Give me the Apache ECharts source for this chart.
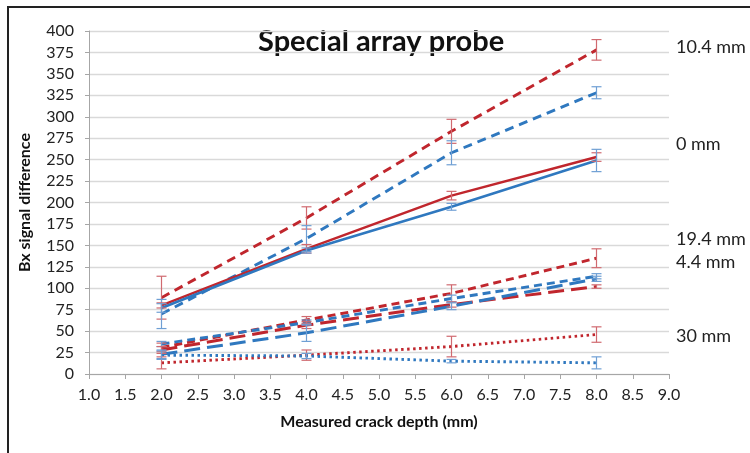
<!DOCTYPE html>
<html>
<head>
<meta charset="utf-8">
<script src="https://cdn.jsdelivr.net/npm/echarts@6/dist/echarts.min.js"></script>
<style>
  html, body { margin: 0; padding: 0; background: #fff; }
  #chart { width: 750px; height: 453px; }
</style>
</head>
<body>
<div id="chart"></div>
<script>
// crack depths (mm)
const depths = [2, 4, 6, 8];

// Bx signal difference, red = one probe row, blue = other
const red104 = [89, 182, 283, 378];
const blue104 = [70, 158, 258, 328];
const red0 = [80, 146, 208, 253];
const blue0 = [77, 144, 195, 249];
const red194 = [31, 63, 94, 135];
const blue194 = [35, 60, 88, 114];
const red44 = [28, 57, 81, 102];
const blue44 = [23, 48, 79, 111];
const red30 = [13, 22, 32, 46];
const blue30 = [22, 21, 15, 13];

// error bar half-widths
const red104Err = [25, 13, 14, 12];
const blue104Err = [17, 15, 14, 7];
const red0Err = [3, 5, 5, 5];
const blue0Err = [5, 3, 4, 13];
const red194Err = [5, 4, 10, 11];
const blue194Err = [3, 3, 4, 3];
const red44Err = [4, 4, 3, 2];
const blue44Err = [5, 10, 4, 3];
const red30Err = [7, 6, 12, 9];
const blue30Err = [5, 3, 2, 7];

// labels at the right edge naming each offset
const sideLabels = ['10.4 mm', '0 mm', '19.4 mm', '4.4 mm', '30 mm'];
const sideLabelY = [49, 146, 241, 264, 338];

const RED = '#c0262d';
const BLUE = '#2f78bf';
const RED_ERR = '#d06a70';
const BLUE_ERR = '#6f9fd4';

function pairs(vals) {
  return depths.map((d, i) => [d, vals[i]]);
}

function lineSeries(name, vals, color, dash, width) {
  return {
    name: name,
    type: 'line',
    data: pairs(vals),
    symbol: 'none',
    lineStyle: { color: color, width: width || 2.6, type: dash, cap: 'butt' },
    z: 3
  };
}

function errSeries(vals, errs, color) {
  return {
    type: 'custom',
    data: depths.map((d, i) => [d, vals[i], errs[i]]),
    z: 4,
    renderItem: function (params, api) {
      const x = api.value(0), y = api.value(1), e = api.value(2);
      const top = api.coord([x, y + e]);
      const bot = api.coord([x, y - e]);
      const hw = 5;
      const st = { stroke: color, lineWidth: 1.2 };
      return {
        type: 'group',
        children: [
          { type: 'line', shape: { x1: top[0], y1: top[1], x2: bot[0], y2: bot[1] }, style: st },
          { type: 'line', shape: { x1: top[0] - hw, y1: top[1], x2: top[0] + hw, y2: top[1] }, style: st },
          { type: 'line', shape: { x1: bot[0] - hw, y1: bot[1], x2: bot[0] + hw, y2: bot[1] }, style: st }
        ]
      };
    }
  };
}

const chart = echarts.init(document.getElementById('chart'));
chart.setOption({
  animation: false,
  textStyle: { fontFamily: 'Lato' },
  grid: { left: 89, right: 81, top: 31, bottom: 79 },
  xAxis: {
    type: 'value',
    min: 1,
    max: 9,
    interval: 0.5,
    name: 'Measured crack depth (mm)',
    nameLocation: 'middle',
    nameGap: 40,
    nameTextStyle: { fontWeight: 'bold', fontSize: 16, color: '#111' },
    axisLine: { show: true, lineStyle: { color: '#a6a6a6' } },
    axisTick: { show: true, length: 5, lineStyle: { color: '#a6a6a6' } },
    axisLabel: { fontSize: 16, color: '#222', margin: 13, formatter: v => v.toFixed(1) },
    splitLine: { show: false }
  },
  yAxis: {
    type: 'value',
    min: 0,
    max: 400,
    interval: 25,
    name: 'Bx signal difference',
    nameLocation: 'middle',
    nameGap: 56,
    nameTextStyle: { fontWeight: 'bold', fontSize: 16, color: '#111' },
    axisLine: { show: true, lineStyle: { color: '#a6a6a6' } },
    axisTick: { show: true, length: 4, lineStyle: { color: '#a6a6a6' } },
    axisLabel: { fontSize: 16, color: '#222', margin: 15 },
    splitLine: { show: true, lineStyle: { color: '#d9d9d9', width: 1.3 } }
  },
  graphic: [
    {
      type: 'rect',
      shape: { x: 8, y: 7, width: 800, height: 520 },
      style: { fill: 'none', stroke: '#222', lineWidth: 2 },
      silent: true
    },
    {
      type: 'text',
      left: 258,
      top: 27,
      style: { text: 'Special array probe', font: 'bold 29px Lato', fill: '#111' }
    }
  ].concat(sideLabels.map((t, i) => ({
    type: 'text',
    left: 676,
    top: sideLabelY[i] - 11,
    style: { text: t, font: '18px Lato', fill: '#222' }
  }))),
  series: [
    lineSeries('10.4 mm red', red104, RED, [9, 6], 2.9),
    lineSeries('10.4 mm blue', blue104, BLUE, [9, 6], 2.9),
    lineSeries('0 mm red', red0, RED, 'solid', 2.5),
    lineSeries('0 mm blue', blue0, BLUE, 'solid', 2.5),
    lineSeries('19.4 mm red', red194, RED, [8, 5], 2.9),
    lineSeries('19.4 mm blue', blue194, BLUE, [8, 5], 2.9),
    lineSeries('4.4 mm red', red44, RED, [16, 7], 3),
    lineSeries('4.4 mm blue', blue44, BLUE, [16, 7], 3),
    lineSeries('30 mm red', red30, RED, [2.5, 3.5], 2.9),
    lineSeries('30 mm blue', blue30, BLUE, [2.5, 3.5], 2.9),
    errSeries(red104, red104Err, RED_ERR),
    errSeries(blue104, blue104Err, BLUE_ERR),
    errSeries(red0, red0Err, RED_ERR),
    errSeries(blue0, blue0Err, BLUE_ERR),
    errSeries(red194, red194Err, RED_ERR),
    errSeries(blue194, blue194Err, BLUE_ERR),
    errSeries(red44, red44Err, RED_ERR),
    errSeries(blue44, blue44Err, BLUE_ERR),
    errSeries(red30, red30Err, RED_ERR),
    errSeries(blue30, blue30Err, BLUE_ERR)
  ]
});
</script>
</body>
</html>
